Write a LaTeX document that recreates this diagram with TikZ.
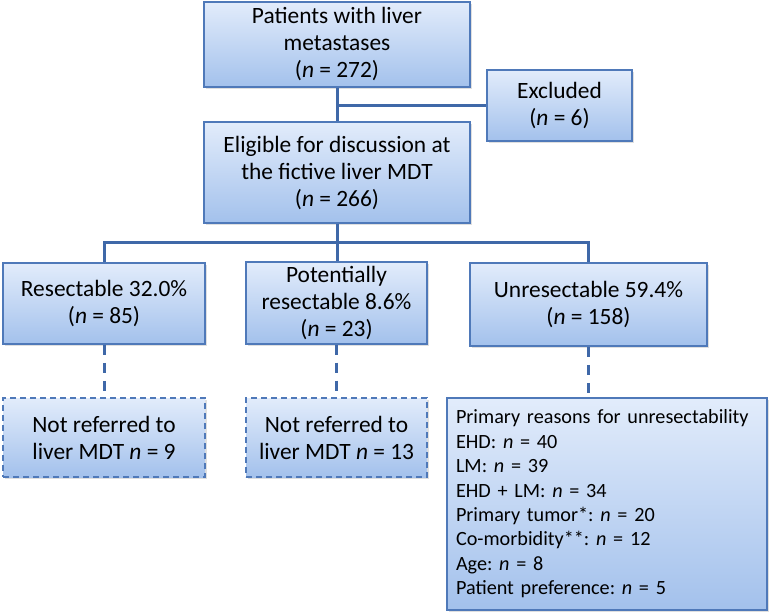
\documentclass[tikz,border=0pt]{standalone}
\usepackage{fontspec}
\setmainfont{Carlito}
\usepackage{tikz}
\usetikzlibrary{shadows}
\definecolor{boxline}{HTML}{4F79B9}
\definecolor{connline}{HTML}{3F68A8}
\definecolor{boxtop}{HTML}{E2ECFB}
\definecolor{boxbot}{HTML}{A3C1EC}
\newcommand{\npat}{\textit{n}}
\newcommand{\reasonfont}{\fontsize{10.1}{12.2}\selectfont
  \spaceskip=0.22em\relax \hyphenpenalty=10000\relax}
\frenchspacing

\begin{document}
\begin{tikzpicture}[x=0.5pt, y=-0.5pt,
    every node/.style={font=\fontsize{11.7}{13.5}\selectfont, align=center, inner sep=2pt},
    flowbox/.style={draw=boxline, line width=0.8pt, top color=boxtop, bottom color=boxbot,
        drop shadow={opacity=0.25, shadow xshift=1pt, shadow yshift=-1pt}},
    notref/.style={flowbox, densely dashed, line width=0.6pt},
    link/.style={draw=connline, line width=1.5pt},
    dlink/.style={link, dash pattern=on 5pt off 4pt}]
        \useasboundingbox (0,0) rectangle (771,615);

        % Top of the chart
        \node (pat) [flowbox, minimum width=133pt, minimum height=42.5pt] at (337,44.5)
        {Patients with liver\\metastases\\(\npat{} = 272)};
        \node (elig) [flowbox, minimum width=133pt, minimum height=50.5pt] at (337,172.5)
        {Eligible for discussion at\\the fictive liver MDT\\(\npat{} = 266)};
        \node (excl) [flowbox, minimum width=72.5pt, minimum height=35.5pt] at (559.5,105.5)
        {Excluded\\(\npat{} = 6)};

        % Resectability groups
        \node (res) [flowbox, minimum width=101pt, minimum height=40.5pt] at (104,303.5)
        {Resectable 32.0\%\\(\npat{} = 85)};
        \node (pot) [flowbox, minimum width=90.5pt, minimum height=40pt] at (336.5,303)
        {Potentially\\resectable 8.6\%\\(\npat{} = 23)};
        \node (unres) [flowbox, minimum width=118.5pt, minimum height=41.5pt] at (588.5,304.5)
        {Unresectable 59.4\%\\(\npat{} = 158)};

        % Bottom row
        \node (nr1) [notref, minimum width=101pt, minimum height=39.5pt] at (104,437.5)
        {Not referred to\\liver MDT \npat{} = 9};
        \node (nr2) [notref, minimum width=90.5pt, minimum height=39.5pt] at (336.5,437.5)
        {Not referred to\\liver MDT \npat{} = 13};
        \node (why) [flowbox, align=left, minimum width=160pt, minimum height=106pt,
            text width=151pt, inner xsep=4.5pt, font=\reasonfont] at (607,504)
        {Primary reasons for unresectability\\
         EHD: \npat{} = 40\\
         LM: \npat{} = 39\\
         EHD + LM: \npat{} = 34\\
         Primary tumor*: \npat{} = 20\\
         Co-morbidity**: \npat{} = 12\\
         Age: \npat{} = 8\\
         Patient preference: \npat{} = 5};

        % Connectors
        \coordinate (exj) at (pat.south |- excl.west);
        \coordinate (split) at (337,242);
        \draw[link] (pat) -- (elig);
        \draw[link] (exj) -- (excl.west);
        \draw[link] (elig.south) -- (split);
        \draw[link] (split) -| (res.north);
        \draw[link] (split) -- (pot.north -| split);
        \draw[link] (split) -| (unres.north);
        \draw[dlink] (res) -- (nr1);
        \draw[dlink] (pot) -- (nr2);
        \draw[dlink] (unres.south) -- (unres.south |- why.north);
      \end{tikzpicture}
\end{document}
